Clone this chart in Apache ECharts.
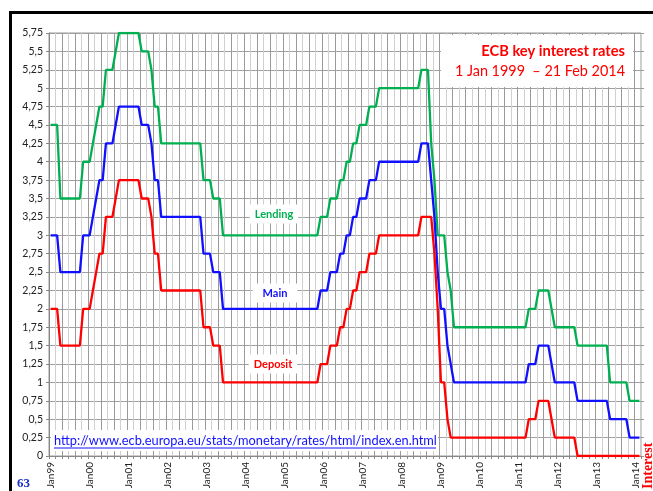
<!DOCTYPE html>
<html>
<head>
<meta charset="utf-8">
<title>ECB key interest rates</title>
<script src="https://cdn.jsdelivr.net/npm/echarts@6/dist/echarts.min.js"></script>
<style>
html, body { margin: 0; padding: 0; background: #fff; }
#chart { width: 653px; height: 491px; }
</style>
</head>
<body>
<div id="chart"></div>
<script>
// month categories, Jan99 .. Feb14 (end-of-month rates)
var monthNames = ['Jan','Feb','Mar','Apr','May','Jun','Jul','Aug','Sep','Oct','Nov','Dec'];
var years = ['99','00','01','02','03','04','05','06','07','08','09','10','11','12','13','14'];
var lastYearMonths = 2;

// marginal lending facility
var lending = [
	4.5, 4.5, 4.5, 3.5, 3.5, 3.5, 3.5, 3.5, 3.5, 3.5, 4, 4,                  // 1999
	4, 4.25, 4.5, 4.75, 4.75, 5.25, 5.25, 5.25, 5.5, 5.75, 5.75, 5.75,        // 2000
	5.75, 5.75, 5.75, 5.75, 5.5, 5.5, 5.5, 5.25, 4.75, 4.75, 4.25, 4.25,      // 2001
	4.25, 4.25, 4.25, 4.25, 4.25, 4.25, 4.25, 4.25, 4.25, 4.25, 4.25, 3.75,   // 2002
	3.75, 3.75, 3.5, 3.5, 3.5, 3, 3, 3, 3, 3, 3, 3,                          // 2003
	3, 3, 3, 3, 3, 3, 3, 3, 3, 3, 3, 3,                                      // 2004
	3, 3, 3, 3, 3, 3, 3, 3, 3, 3, 3, 3.25,                                   // 2005
	3.25, 3.25, 3.5, 3.5, 3.5, 3.75, 3.75, 4, 4, 4.25, 4.25, 4.5,             // 2006
	4.5, 4.5, 4.75, 4.75, 4.75, 5, 5, 5, 5, 5, 5, 5,                         // 2007
	5, 5, 5, 5, 5, 5, 5.25, 5.25, 5.25, 4.25, 3.75, 3,                       // 2008
	3, 3, 2.5, 2.25, 1.75, 1.75, 1.75, 1.75, 1.75, 1.75, 1.75, 1.75,          // 2009
	1.75, 1.75, 1.75, 1.75, 1.75, 1.75, 1.75, 1.75, 1.75, 1.75, 1.75, 1.75,   // 2010
	1.75, 1.75, 1.75, 2, 2, 2, 2.25, 2.25, 2.25, 2.25, 2, 1.75,              // 2011
	1.75, 1.75, 1.75, 1.75, 1.75, 1.75, 1.5, 1.5, 1.5, 1.5, 1.5, 1.5,         // 2012
	1.5, 1.5, 1.5, 1.5, 1, 1, 1, 1, 1, 1, 0.75, 0.75,                        // 2013
	0.75, 0.75                                                               // 2014
];

// main refinancing operations
var main = [
	3, 3, 3, 2.5, 2.5, 2.5, 2.5, 2.5, 2.5, 2.5, 3, 3,
	3, 3.25, 3.5, 3.75, 3.75, 4.25, 4.25, 4.25, 4.5, 4.75, 4.75, 4.75,
	4.75, 4.75, 4.75, 4.75, 4.5, 4.5, 4.5, 4.25, 3.75, 3.75, 3.25, 3.25,
	3.25, 3.25, 3.25, 3.25, 3.25, 3.25, 3.25, 3.25, 3.25, 3.25, 3.25, 2.75,
	2.75, 2.75, 2.5, 2.5, 2.5, 2, 2, 2, 2, 2, 2, 2,
	2, 2, 2, 2, 2, 2, 2, 2, 2, 2, 2, 2,
	2, 2, 2, 2, 2, 2, 2, 2, 2, 2, 2, 2.25,
	2.25, 2.25, 2.5, 2.5, 2.5, 2.75, 2.75, 3, 3, 3.25, 3.25, 3.5,
	3.5, 3.5, 3.75, 3.75, 3.75, 4, 4, 4, 4, 4, 4, 4,
	4, 4, 4, 4, 4, 4, 4.25, 4.25, 4.25, 3.75, 3.25, 2.5,
	2, 2, 1.5, 1.25, 1, 1, 1, 1, 1, 1, 1, 1,
	1, 1, 1, 1, 1, 1, 1, 1, 1, 1, 1, 1,
	1, 1, 1, 1.25, 1.25, 1.25, 1.5, 1.5, 1.5, 1.5, 1.25, 1,
	1, 1, 1, 1, 1, 1, 0.75, 0.75, 0.75, 0.75, 0.75, 0.75,
	0.75, 0.75, 0.75, 0.75, 0.5, 0.5, 0.5, 0.5, 0.5, 0.5, 0.25, 0.25,
	0.25, 0.25
];

// deposit facility
var deposit = [
	2, 2, 2, 1.5, 1.5, 1.5, 1.5, 1.5, 1.5, 1.5, 2, 2,
	2, 2.25, 2.5, 2.75, 2.75, 3.25, 3.25, 3.25, 3.5, 3.75, 3.75, 3.75,
	3.75, 3.75, 3.75, 3.75, 3.5, 3.5, 3.5, 3.25, 2.75, 2.75, 2.25, 2.25,
	2.25, 2.25, 2.25, 2.25, 2.25, 2.25, 2.25, 2.25, 2.25, 2.25, 2.25, 1.75,
	1.75, 1.75, 1.5, 1.5, 1.5, 1, 1, 1, 1, 1, 1, 1,
	1, 1, 1, 1, 1, 1, 1, 1, 1, 1, 1, 1,
	1, 1, 1, 1, 1, 1, 1, 1, 1, 1, 1, 1.25,
	1.25, 1.25, 1.5, 1.5, 1.5, 1.75, 1.75, 2, 2, 2.25, 2.25, 2.5,
	2.5, 2.5, 2.75, 2.75, 2.75, 3, 3, 3, 3, 3, 3, 3,
	3, 3, 3, 3, 3, 3, 3.25, 3.25, 3.25, 3.25, 2.75, 2,
	1, 1, 0.5, 0.25, 0.25, 0.25, 0.25, 0.25, 0.25, 0.25, 0.25, 0.25,
	0.25, 0.25, 0.25, 0.25, 0.25, 0.25, 0.25, 0.25, 0.25, 0.25, 0.25, 0.25,
	0.25, 0.25, 0.25, 0.5, 0.5, 0.5, 0.75, 0.75, 0.75, 0.75, 0.5, 0.25,
	0.25, 0.25, 0.25, 0.25, 0.25, 0.25, 0, 0, 0, 0, 0, 0,
	0, 0, 0, 0, 0, 0, 0, 0, 0, 0, 0, 0,
	0, 0
];

var categories = [];
years.forEach(function(y, i) {
	var n = (i == years.length - 1) ? lastYearMonths : 12;
	for (var m = 0; m < n; m++) categories.push(monthNames[m] + y);
});

var chart = echarts.init(document.getElementById('chart'));
var font = 'Lato, "Noto Sans", sans-serif';

var option = {
	backgroundColor: '#fff',
	animation: false,
	grid: {
		left: 49, right: 12, top: 33, bottom: 35,
		show: true, borderColor: '#999', borderWidth: 1,
		containLabel: false, outerBoundsMode: 'none'
	},
	xAxis: {
		type: 'category',
		data: categories,
		boundaryGap: true,
		axisLine: { lineStyle: { color: '#888', width: 1 } },
		axisTick: { show: true, interval: 1, length: 3, lineStyle: { color: '#888' } },
		axisLabel: {
			interval: function(idx) { return idx % 12 === 0; },
			rotate: 90, margin: 6,
			fontFamily: font, fontSize: 10, color: '#222'
		},
		splitLine: { show: true, interval: 1, lineStyle: { color: ['#9a9a9a', '#d0d0d0'], width: 1 } }
	},
	yAxis: [{
		type: 'value',
		min: 0, max: 5.75, interval: 0.25,
		axisLine: { show: true, lineStyle: { color: '#888' } },
		axisTick: { show: true, length: 3, lineStyle: { color: '#888' } },
		axisLabel: {
			margin: 6, fontFamily: font, fontSize: 10.5, color: '#222',
			formatter: function(v) { return String(v).replace('.', ','); }
		},
		splitLine: { show: true, lineStyle: { color: '#a0a0a0', width: 1 } }
	}, {
		type: 'value', position: 'right',
		min: 0, max: 5.75, interval: 0.25,
		axisLine: { show: false },
		axisTick: { show: true, length: 3, lineStyle: { color: '#999' } },
		axisLabel: { show: false },
		splitLine: { show: false }
	}],
	series: [{
		name: 'Lending', type: 'line', data: lending, showSymbol: false, symbol: 'none',
		lineStyle: { color: '#00b050', width: 2.3 }, itemStyle: { color: '#00b050' }
	}, {
		name: 'Main', type: 'line', data: main, showSymbol: false, symbol: 'none',
		lineStyle: { color: '#1010ff', width: 2.3 }, itemStyle: { color: '#1010ff' }
	}, {
		name: 'Deposit', type: 'line', data: deposit, showSymbol: false, symbol: 'none',
		lineStyle: { color: '#ff0000', width: 2.3 }, itemStyle: { color: '#ff0000' }
	}],
	graphic: [
		// page frame
		{ type: 'rect', z: 100, shape: { x: 9, y: 11, width: 644, height: 3 }, style: { fill: '#000' } },
		{ type: 'rect', z: 100, shape: { x: 9, y: 11, width: 3, height: 480 }, style: { fill: '#000' } },
		// title box
		{ type: 'rect', z: 100, shape: { x: 441, y: 35, width: 192, height: 52 }, style: { fill: '#fff' } },
		{ type: 'text', z: 101, style: { text: 'ECB key interest rates', x: 625, y: 51, align: 'right', verticalAlign: 'middle',
			fill: '#ff0000', font: 'bold 14.7px ' + font } },
		{ type: 'text', z: 101, style: { text: '1 Jan 1999  \u2013 21 Feb 2014', x: 625, y: 71, align: 'right', verticalAlign: 'middle',
			fill: '#ff0000', font: '14.4px ' + font } },
		// series names
		{ type: 'text', z: 101, style: { text: 'Lending', x: 274, y: 214, align: 'center', verticalAlign: 'middle',
			fill: '#00b050', font: 'bold 11px ' + font, backgroundColor: '#fff', padding: [4, 5] } },
		{ type: 'text', z: 101, style: { text: 'Main', x: 275, y: 293, align: 'center', verticalAlign: 'middle',
			fill: '#1010ff', font: 'bold 11px ' + font, backgroundColor: '#fff', padding: [4, 10] } },
		{ type: 'text', z: 101, style: { text: 'Deposit', x: 273, y: 364, align: 'center', verticalAlign: 'middle',
			fill: '#ff0000', font: 'bold 11px ' + font, backgroundColor: '#fff', padding: [4, 5] } },
		// source url
		{ type: 'rect', z: 100, shape: { x: 51, y: 430, width: 387, height: 21 }, style: { fill: '#fff' } },
		{ type: 'text', z: 101, style: { text: 'http://www.ecb.europa.eu/stats/monetary/rates/html/index.en.html',
			x: 54, y: 441, align: 'left', verticalAlign: 'middle', fill: '#1010ff', font: '12.8px ' + font } },
		{ type: 'line', z: 101, shape: { x1: 54, y1: 448, x2: 436, y2: 448 }, style: { stroke: '#1010ff', lineWidth: 1 } },
		// page number and side caption
		{ type: 'text', z: 101, style: { text: '63', x: 17, y: 484, align: 'left', verticalAlign: 'middle',
			fill: '#1a2ccc', font: 'bold 13px "Liberation Serif", "DejaVu Serif", serif' } },
		{ type: 'text', z: 101, x: 648, y: 489, rotation: Math.PI / 2,
			style: { text: 'Interest', x: 0, y: 0, align: 'left', verticalAlign: 'middle',
			fill: '#ff0000', font: 'bold 14px "Liberation Serif", "DejaVu Serif", serif' } }
	]
};

chart.setOption(option);
</script>
</body>
</html>
